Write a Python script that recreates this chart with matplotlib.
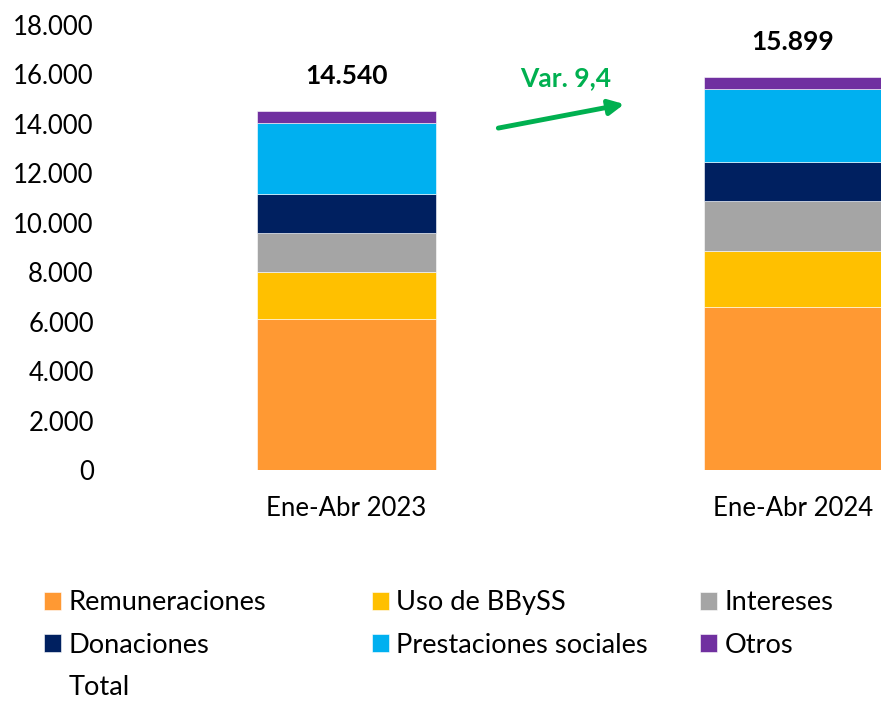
import numpy as np
import matplotlib.pyplot as plt
from matplotlib.ticker import FuncFormatter

# values (millones)
periods = ["Ene-Abr 2023", "Ene-Abr 2024"]
remuneraciones = [6100, 6580]
uso_bbyss = [1910, 2280]
intereses = [1580, 2010]
donaciones = [1560, 1600]
prestaciones = [2880, 2960]
otros = [510, 469]
totals = [14540, 15899]
variation = "Var. 9,4"

series = [
    ("Remuneraciones", remuneraciones, "#FF9933"),
    ("Uso de BBySS", uso_bbyss, "#FFC000"),
    ("Intereses", intereses, "#A5A5A5"),
    ("Donaciones", donaciones, "#002060"),
    ("Prestaciones sociales", prestaciones, "#00B0F0"),
    ("Otros", otros, "#7030A0"),
]

plt.rcParams["font.family"] = ["Lato", "DejaVu Sans"]

fig = plt.figure(figsize=(8.81, 7.02), dpi=100)
ax = fig.add_axes([0.1396, 0.3305, 0.8604, 0.6339])

x = np.arange(len(periods))
bottom = np.zeros(len(periods))
handles = {}
for name, vals, color in series:
    bars = ax.bar(x, vals, width=0.40, bottom=bottom, color=color,
                  edgecolor="white", linewidth=0.4, label=name)
    handles[name] = bars
    bottom += np.array(vals)

# total series: invisible, only shows in legend and drives the labels
(total_line,) = ax.plot(x, totals, linestyle="none", marker="none", label="Total")

for xi, t in zip(x, totals):
    ax.annotate(f"{t:,}".replace(",", "."), xy=(xi, t), xytext=(0, 25),
                textcoords="offset points", ha="center", va="center",
                fontsize=19, fontweight="bold", color="black")

# variation arrow between the bars
ax.annotate("", xy=(0.622, 14800), xytext=(0.340, 13830),
            arrowprops=dict(arrowstyle="-|>,head_length=0.9,head_width=0.45",
                            color="#00B050", lw=3.5, shrinkA=0, shrinkB=0))
ax.text(0.490, 15830, variation, ha="center", va="center",
        fontsize=19, fontweight="bold", color="#00B050")

ax.set_xlim(-0.5006, 1.197)
ax.set_ylim(0, 18000)
ax.set_yticks(np.arange(0, 18001, 2000))
ax.yaxis.set_major_formatter(FuncFormatter(lambda v, p: f"{int(v):,}".replace(",", ".")))
ax.set_xticks(x)
ax.set_xticklabels(periods)
ax.tick_params(axis="y", length=0, pad=21, labelsize=18.5)
ax.tick_params(axis="x", length=0, pad=19, labelsize=18.5)
for s in ax.spines.values():
    s.set_visible(False)

# legend laid out in three fixed-width columns, like the original
columns = [
    (["Remuneraciones", "Donaciones", "Total"], 0.0499),
    (["Uso de BBySS", "Prestaciones sociales"], 0.4222),
    (["Intereses", "Otros"], 0.7946),
]
for names, left in columns:
    hs = [total_line if n == "Total" else handles[n] for n in names]
    fig.legend(hs, names, loc="upper left", bbox_to_anchor=(left, 0.159),
               bbox_transform=fig.transFigure, frameon=False, fontsize=19.6,
               handlelength=0.64, handleheight=0.64, handletextpad=0.25,
               labelspacing=0.64, borderaxespad=0, borderpad=0)

fig.savefig("out.png", dpi=100)
